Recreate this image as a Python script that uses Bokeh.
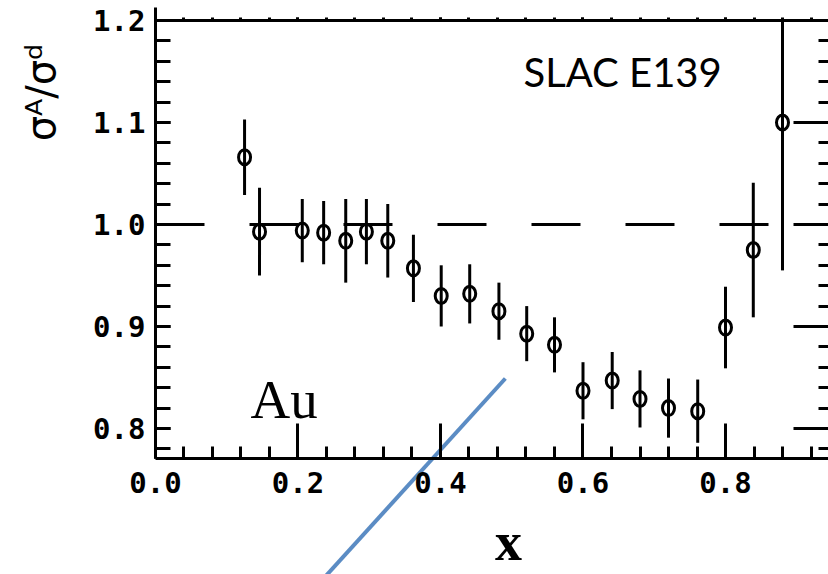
import math
from bokeh.plotting import figure
from bokeh.models import (Range1d, LinearAxis, SingleIntervalTicker, PrintfTickFormatter,
                          Label, ColumnDataSource, CustomLabelingPolicy)
from bokeh.embed import file_html
from bokeh.resources import INLINE

# ---- data ----
x_vals = [0.125, 0.146, 0.206, 0.236, 0.267, 0.296, 0.326, 0.362, 0.401, 0.441, 0.482,
          0.521, 0.560, 0.600, 0.641, 0.680, 0.720, 0.761, 0.800, 0.839, 0.880]
ratio = [1.066, 0.993, 0.994, 0.992, 0.984, 0.993, 0.984, 0.957, 0.930, 0.932, 0.915,
         0.893, 0.882, 0.837, 0.847, 0.829, 0.820, 0.817, 0.899, 0.975, 1.100]
err = [0.037, 0.043, 0.031, 0.031, 0.041, 0.032, 0.036, 0.033, 0.030, 0.029, 0.028,
       0.027, 0.027, 0.028, 0.028, 0.028, 0.029, 0.031, 0.040, 0.066, 0.145]
ref_level = 1.0
blue_line_x = [0.232, 0.491]
blue_line_y = [0.650, 0.849]

# axis box (data units)
X0, X1 = 0.0, 0.9446
Y0, Y1 = 0.7706, 1.2

src = ColumnDataSource(dict(
    x=x_vals, y=ratio,
    lo=[r - e for r, e in zip(ratio, err)],
    hi=[min(r + e, Y1) for r, e in zip(ratio, err)],
))

# the data frame covers the whole canvas; axes are drawn at fixed locations
p = figure(width=828, height=574, output_backend="svg", toolbar_location=None,
           x_range=Range1d(-0.21754, 0.94456), y_range=Range1d(0.65686, 1.21961),
           x_axis_location=None, y_axis_location=None,
           min_border_left=0, min_border_right=0, min_border_top=0, min_border_bottom=0)
p.outline_line_color = None
p.xgrid.visible = False
p.ygrid.visible = False
p.background_fill_color = "white"

xticker = SingleIntervalTicker(interval=0.2, num_minor_ticks=5)
yticker = SingleIntervalTicker(interval=0.1, num_minor_ticks=5)
fmt = PrintfTickFormatter(format="%.1f")
LW = 3
tick_font = "DejaVu Sans Mono"
no_labels = CustomLabelingPolicy(code="return []")

def style(ax):
    ax.axis_line_width = LW
    ax.major_tick_line_width = LW
    ax.minor_tick_line_width = LW
    ax.axis_line_color = "black"
    ax.major_tick_line_color = "black"
    ax.minor_tick_line_color = "black"
    ax.major_label_text_color = "black"

bottom = LinearAxis(ticker=xticker, formatter=fmt, fixed_location=Y0, bounds=(X0, X1))
style(bottom)
bottom.major_tick_in = 35
bottom.major_tick_out = 0
bottom.minor_tick_in = 12
bottom.minor_tick_out = 0
bottom.major_label_text_font = tick_font
bottom.major_label_text_font_style = "bold"
bottom.major_label_text_font_size = "29px"
bottom.major_label_standoff = 14
p.add_layout(bottom, "below")

left = LinearAxis(ticker=yticker, formatter=fmt, fixed_location=X0, bounds=(Y0, 1.2127))
style(left)
left.major_tick_in = 15
left.major_tick_out = 0
left.minor_tick_in = 15
left.minor_tick_out = 0
left.major_label_text_font = tick_font
left.major_label_text_font_style = "bold"
left.major_label_text_font_size = "29px"
left.major_label_standoff = 10
p.add_layout(left, "left")

top = LinearAxis(ticker=xticker, fixed_location=Y1, bounds=(X0, X1),
                 major_label_policy=no_labels)
style(top)
top.major_tick_in = 0
top.major_tick_out = 3
top.minor_tick_in = 0
top.minor_tick_out = 3
p.add_layout(top, "above")

right = LinearAxis(ticker=yticker, fixed_location=X1 + 0.0001, bounds=(Y0, Y1),
                   major_label_policy=no_labels)
style(right)
right.axis_line_color = None
right.major_tick_in = 35
right.major_tick_out = 0
right.minor_tick_in = 10
right.minor_tick_out = 0
p.add_layout(right, "right")

# dashed reference line at 1.0
p.line(x=[X0, X1], y=[ref_level, ref_level], line_color="black", line_width=LW,
       line_dash="49 45")

# error bars and open markers
p.segment(x0="x", y0="lo", x1="x", y1="hi", source=src, line_color="black", line_width=LW)
p.ellipse(x="x", y="y", width=12, height=15, width_units="screen", height_units="screen",
          source=src, fill_color=None, line_color="black", line_width=LW)

# blue overlay line
p.line(x=blue_line_x, y=blue_line_y, line_color="#5b8cc4", line_width=4)

# texts
p.add_layout(Label(x=0.5165, y=1.150, text="SLAC E139", text_font="Lato",
                   text_font_size="40px", text_color="black",
                   text_align="left", text_baseline="alphabetic"))
p.add_layout(Label(x=0.1333, y=0.8284, text="Au", text_font="Liberation Serif",
                   text_font_size="55px", text_color="black",
                   text_align="left", text_baseline="alphabetic"))
p.add_layout(Label(x=0.4954, y=0.6892, text="x", text_font="Liberation Serif",
                   text_font_style="bold", text_font_size="54px", text_color="black",
                   text_align="center", text_baseline="alphabetic"))
p.add_layout(Label(x=-0.16, y=1.1294, text="σᴬ/σᵈ", text_font="DejaVu Sans",
                   text_font_size="40px", text_color="black", angle=math.pi / 2,
                   text_align="center", text_baseline="middle"))

open("out.html", "w").write(file_html(p, INLINE))
